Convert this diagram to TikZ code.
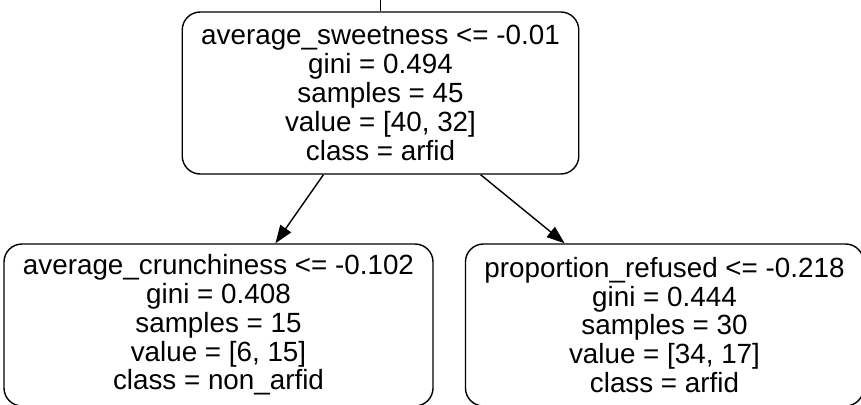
\documentclass[tikz,border=0pt]{standalone}
\usepackage{fontspec}
\setmainfont{Liberation Sans}
\usetikzlibrary{arrows.meta}

\begin{document}
\begin{tikzpicture}[
    split/.style={draw, rounded corners=18pt, line width=1.4pt, align=center,
        inner xsep=19pt, inner ysep=0pt, minimum height=162pt,
        font=\fontsize{27.8}{28.8}\selectfont},
    branch/.style={line width=1.4pt, -{Triangle[length=18pt, width=13pt]}} % Kanten zwischen den Knoten
]
\useasboundingbox (0,0) rectangle (861pt,-404pt);
\clip (0,0) rectangle (861pt,-404pt);

\node[split] (root) at (380.5pt,-93pt)
    {average\_sweetness <= -0.01\\ gini = 0.494\\ samples = 45\\ value = [40, 32]\\ class = arfid};
\node[split] (lft) at (218.5pt,-325pt)
    {average\_crunchiness <= -0.102\\ gini = 0.408\\ samples = 15\\ value = [6, 15]\\ class = non\_arfid};
\node[split] (rgt) at (664.5pt,-325pt)
    {proportion\_refused <= -0.218\\ gini = 0.444\\ samples = 30\\ value = [34, 17]\\ class = arfid};

\coordinate (up) at (380.5pt,10pt);
\draw[line width=1.4pt] (up) -- (root.north);
\draw[branch] (root) -- (lft);
\draw[branch] (root) -- (rgt);

\end{tikzpicture}
\end{document}
